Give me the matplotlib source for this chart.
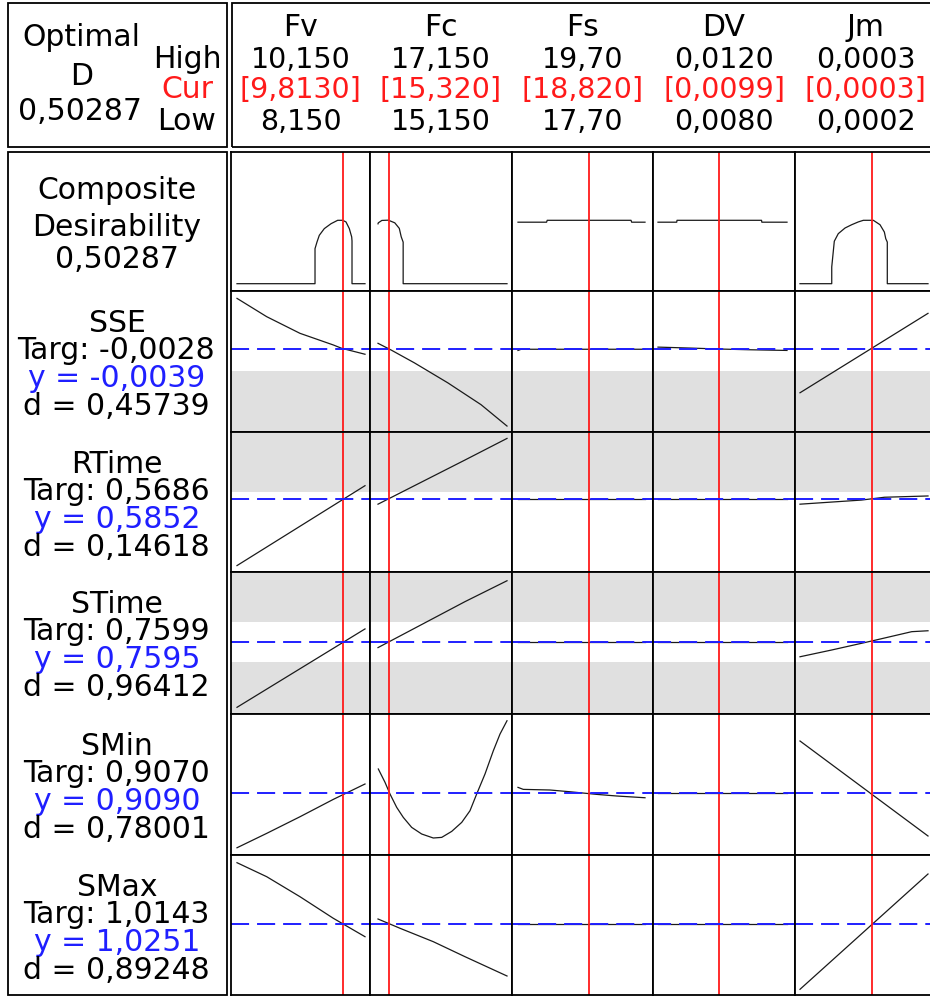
import matplotlib.pyplot as plt
from matplotlib.patches import Rectangle

W, H = 930, 998

# factors (columns)
factors = ["Fv", "Fc", "Fs", "DV", "Jm"]
low = [8.150, 15.150, 17.70, 0.0080, 0.0002]
high = [10.150, 17.150, 19.70, 0.0120, 0.0003]
cur = [9.813, 15.320, 18.820, 0.0099, 0.000256]
high_txt = ["10,150", "17,150", "19,70", "0,0120", "0,0003"]
cur_txt = ["[9,8130]", "[15,320]", "[18,820]", "[0,0099]", "[0,0003]"]
low_txt = ["8,150", "15,150", "17,70", "0,0080", "0,0002"]

# responses (rows)
responses = ["SSE", "RTime", "STime", "SMin", "SMax"]
targ_txt = ["-0,0028", "0,5686", "0,7599", "0,9070", "1,0143"]
y_txt = ["-0,0039", "0,5852", "0,7595", "0,9090", "1,0251"]
d_txt = ["0,45739", "0,14618", "0,96412", "0,78001", "0,89248"]
y_cur = [-0.0039, 0.5852, 0.7595, 0.9090, 1.0251]
D_txt = "0,50287"

# composite desirability curves
comp_x = [
    [8.15, 9.369, 9.369, 9.400, 9.436, 9.514, 9.619, 9.723, 9.802, 9.853, 9.905, 9.942, 9.947, 9.947, 10.15],
    [15.15, 15.155, 15.21, 15.31, 15.41, 15.48, 15.51, 15.54, 15.54, 17.15],
    [17.70, 18.15, 18.16, 19.48, 19.49, 19.70],
    [0.0080, 0.00858, 0.00859, 0.01121, 0.01122, 0.0120],
    [0.0002, 0.0002248, 0.0002248, 0.0002268, 0.0002299, 0.0002352, 0.0002404, 0.0002455,
     0.0002495, 0.0002573, 0.0002625, 0.0002659, 0.000267, 0.0002682, 0.0002682, 0.0003],
]
comp_y = [
    [0, 0, 0.278, 0.331, 0.384, 0.437, 0.476, 0.503, 0.503, 0.490, 0.437, 0.371, 0.34, 0, 0],
    [0.475, 0.483, 0.502, 0.504, 0.483, 0.439, 0.372, 0.33, 0, 0],
    [0.488, 0.488, 0.503, 0.503, 0.488, 0.488],
    [0.488, 0.488, 0.503, 0.503, 0.488, 0.488],
    [0, 0, 0.133, 0.337, 0.397, 0.442, 0.468, 0.490, 0.503, 0.503, 0.468, 0.410, 0.357, 0.33, 0, 0],
]

sse_x = [
    [8.15, 8.614, 9.134, 9.655, 9.786, 10.15],
    [15.15, 15.352, 15.713, 16.231, 16.747, 17.15],
    [17.70, 17.75, 19.70],
    [0.0080, 0.0090, 0.0099, 0.0108, 0.0120],
    [0.0002, 0.0003],
]
sse_y = [
    [-0.00177, -0.00254, -0.00324, -0.00373, -0.00387, -0.00412],
    [-0.00366, -0.00394, -0.00448, -0.00532, -0.00624, -0.00714],
    [-0.00396, -0.00391, -0.00391],
    [-0.00382, -0.00386, -0.00390, -0.00393, -0.00396],
    [-0.00574, -0.00240],
]

rtime_x = [
    [8.15, 10.15],
    [15.15, 16.499, 17.15],
    [17.70, 19.70],
    [0.0080, 0.0120],
    [0.0002, 0.000248, 0.000266, 0.0003],
]
rtime_y = [
    [0.5594, 0.5905],
    [0.5833, 0.6005, 0.6089],
    [0.5852, 0.5852],
    [0.5852, 0.5852],
    [0.5833, 0.5849, 0.5860, 0.5865],
]

stime_x = [
    [8.15, 10.15],
    [15.15, 16.499, 17.15],
    [17.70, 19.70],
    [0.0080, 0.0120],
    [0.0002, 0.0002248, 0.000256, 0.0002873, 0.0003],
]
stime_y = [
    [0.7240, 0.7668],
    [0.7566, 0.7817, 0.7931],
    [0.7595, 0.7595],
    [0.7595, 0.7595],
    [0.7516, 0.7553, 0.7602, 0.7653, 0.7658],
]

smin_x = [
    [8.15, 8.614, 9.134, 9.655, 10.15],
    [15.155, 15.259, 15.336, 15.440, 15.542, 15.672, 15.827, 16.007, 16.138, 16.293,
     16.448, 16.576, 16.680, 16.809, 16.938, 17.042, 17.15],
    [17.70, 17.783, 18.203, 18.518, 18.939, 19.254, 19.70],
    [0.0080, 0.0120],
    [0.0002, 0.0003],
]
smin_y = [
    [0.9046, 0.90575, 0.90708, 0.90847, 0.9097],
    [0.91090, 0.90983, 0.90890, 0.90783, 0.90703, 0.90623, 0.90570, 0.90538, 0.90543, 0.90591,
     0.90663, 0.90756, 0.90890, 0.91050, 0.91236, 0.91370, 0.91476],
    [0.90943, 0.90927, 0.90922, 0.90908, 0.90887, 0.90874, 0.9086],
    [0.9090, 0.9090],
    [0.91314, 0.90554],
]

smax_x = [
    [8.15, 8.614, 9.134, 9.655, 10.15],
    [15.15, 15.492, 16.008, 16.499, 17.15],
    [17.70, 19.70],
    [0.0080, 0.0120],
    [0.0002, 0.0003],
]
smax_y = [
    [1.04358, 1.03938, 1.03338, 1.0269, 1.02138],
    [1.02669, 1.0239, 1.01988, 1.01538, 1.00959],
    [1.0251, 1.0251],
    [1.0251, 1.0251],
    [1.0056, 1.04019],
]

row_x = [comp_x, sse_x, rtime_x, stime_x, smin_x, smax_x]
row_y = [comp_y, sse_y, rtime_y, stime_y, smin_y, smax_y]
row_lim = [(-0.058, 1.045), (-0.00739, -0.00146), (0.5569, 0.6114),
           (0.72035, 0.79788), (0.90402, 0.9153), (1.00389, 1.04589)]
# grey bands = response outside its acceptable limits
row_bands = [[], [(-1.0, -0.00483)], [(0.5880, 2.0)],
             [(0.0, 0.7488), (0.7706, 2.0)], [], []]

# layout in pixels
col_edges = [231, 370, 512, 653, 795, 936]
row_edges = [152, 291, 432, 572, 714, 855, 995]
pad_l = [6, 8, 6, 5, 5]
pad_r = [5, 5, 8, 8, 8]

FS = 20.5
FS_LBL = 21.5
RED = "#ff1a1a"
BLUE = "#1f1fff"
GREY = "#e0e0e0"

fig = plt.figure(figsize=(W / 100, H / 100), dpi=100)


def px_axes(x0, y0, x1, y1):
    return fig.add_axes([x0 / W, 1 - y1 / H, (x1 - x0) / W, (y1 - y0) / H])


def px_text(x, y, s, **kw):
    kw.setdefault("ha", "center")
    kw.setdefault("fontsize", FS)
    fig.text(x / W, 1 - y / H, s, va="baseline", **kw)


def px_box(x0, y0, x1, y1):
    fig.add_artist(Rectangle((x0 / W, 1 - y1 / H), (x1 - x0) / W, (y1 - y0) / H,
                             transform=fig.transFigure, fill=False, lw=1.3, color="black"))


# boxes
px_box(8, 3, 227, 147)
px_box(232, 3, 945, 147)
px_box(8, 152, 227, 995)

# header text
px_text(81, 46, "Optimal", fontsize=FS_LBL)
px_text(82, 85, "D", fontsize=FS_LBL)
px_text(80, 120, D_txt, fontsize=FS_LBL)
px_text(187, 68, "High", fontsize=FS_LBL)
px_text(187, 98, "Cur", color=RED, fontsize=FS_LBL)
px_text(186, 130, "Low", fontsize=FS_LBL)
for c in range(5):
    xc = (col_edges[c] + col_edges[c + 1]) / 2
    px_text(xc, 36, factors[c], fontsize=FS_LBL)
    px_text(xc, 68, high_txt[c])
    px_text(xc, 98, cur_txt[c], color=RED)
    px_text(xc, 130, low_txt[c])

# row labels
px_text(117, 199, "Composite", fontsize=FS_LBL)
px_text(117, 236, "Desirability", fontsize=FS_LBL)
px_text(117, 268, D_txt, fontsize=FS_LBL)
for r in range(5):
    top = row_edges[r + 1]
    px_text(117, top + 41, responses[r], fontsize=FS_LBL)
    px_text(116, top + 68, "Targ: " + targ_txt[r], fontsize=FS_LBL)
    px_text(117, top + 96, "y = " + y_txt[r], color=BLUE, fontsize=FS_LBL)
    px_text(116, top + 124, "d = " + d_txt[r], fontsize=FS_LBL)

# cells
for r in range(6):
    for c in range(5):
        ax = px_axes(col_edges[c], row_edges[r], col_edges[c + 1], row_edges[r + 1])
        span = high[c] - low[c]
        cw = col_edges[c + 1] - col_edges[c] - pad_l[c] - pad_r[c]
        ax.set_xlim(low[c] - pad_l[c] / cw * span, high[c] + pad_r[c] / cw * span)
        for lo, hi in row_bands[r]:
            ax.axhspan(lo, hi, color=GREY, lw=0, zorder=0)
        ax.plot(row_x[r][c], row_y[r][c], color="#1a1a1a", lw=0.9, zorder=2)
        ax.axvline(cur[c], color=RED, lw=1.3, zorder=3)
        if r > 0:
            ax.axhline(y_cur[r - 1], color=BLUE, lw=1.4, ls=(0, (9.3, 4.1)), zorder=4)
        ax.set_ylim(row_lim[r])
        ax.set_xticks([])
        ax.set_yticks([])
        for sp in ax.spines.values():
            sp.set_linewidth(1.3)
            sp.set_color("black")
            sp.set_zorder(5)

fig.savefig("out.png", dpi=100)
